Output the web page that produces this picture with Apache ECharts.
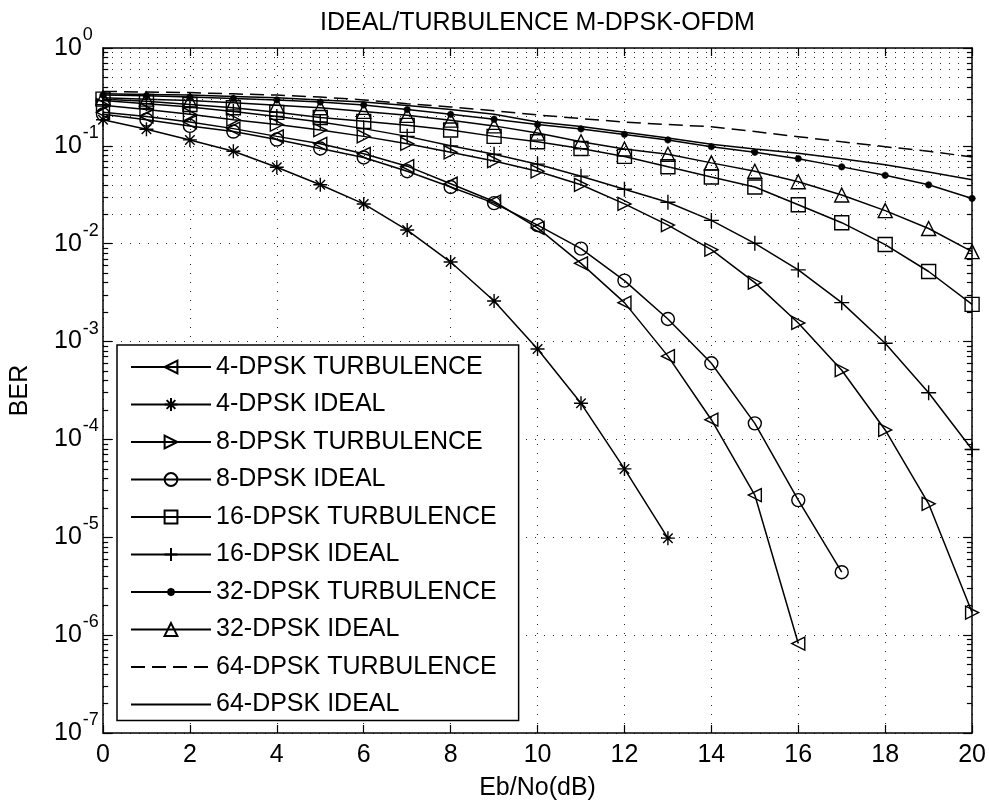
<!DOCTYPE html>
<html>
<head>
<meta charset="utf-8">
<title>IDEAL/TURBULENCE M-DPSK-OFDM</title>
<script src="https://cdn.jsdelivr.net/npm/echarts@6/dist/echarts.min.js"></script>
<style>
  html, body { margin: 0; padding: 0; background: #ffffff; }
  #chart { width: 989px; height: 806px; }
</style>
</head>
<body>
<div id="chart"></div>
<script>
// Eb/No sweep in dB
const ebno = [0, 1, 2, 3, 4, 5, 6, 7, 8, 9, 10, 11, 12, 13, 14, 15, 16, 17, 18, 19, 20];

// Bit error rates per modulation order and channel
const ber4Turb  = [0.22, 0.20, 0.175, 0.15, 0.125, 0.105, 0.083, 0.062, 0.041, 0.027, 0.0145, 0.0063, 0.0025, 0.00071, 0.000159, 2.7e-5, 8.2e-7];
const ber4Ideal = [0.185, 0.148, 0.115, 0.088, 0.0605, 0.040, 0.0255, 0.0138, 0.0065, 0.0026, 0.00084, 0.000234, 5.0e-5, 9.8e-6];
const ber8Turb  = [0.26, 0.235, 0.21, 0.185, 0.165, 0.145, 0.125, 0.105, 0.086, 0.070, 0.055, 0.040, 0.0255, 0.0155, 0.0087, 0.0040, 0.00155, 0.00051, 0.000125, 2.2e-5, 1.7e-6];
const ber8Ideal = [0.21, 0.185, 0.16, 0.14, 0.116, 0.094, 0.076, 0.055, 0.038, 0.026, 0.0155, 0.0089, 0.0042, 0.0017, 0.0006, 0.000146, 2.4e-5, 4.4e-6];
const ber16Turb  = [0.30, 0.285, 0.265, 0.245, 0.22, 0.195, 0.178, 0.162, 0.145, 0.125, 0.11, 0.094, 0.078, 0.0612, 0.048, 0.038, 0.025, 0.0164, 0.0098, 0.0052, 0.0024];
const ber16Ideal = [0.29, 0.27, 0.25, 0.225, 0.20, 0.175, 0.15, 0.125, 0.10, 0.082, 0.065, 0.049, 0.036, 0.0265, 0.0173, 0.0101, 0.0054, 0.0025, 0.00096, 0.0003, 7.9e-5];
const ber32Turb  = [0.33, 0.325, 0.315, 0.305, 0.295, 0.28, 0.262, 0.235, 0.21, 0.187, 0.165, 0.149, 0.131, 0.115, 0.098, 0.086, 0.074, 0.061, 0.050, 0.040, 0.029];
const ber32Ideal = [0.31, 0.30, 0.29, 0.275, 0.26, 0.245, 0.225, 0.205, 0.183, 0.16, 0.135, 0.11, 0.093, 0.082, 0.067, 0.055, 0.043, 0.0315, 0.0218, 0.0143, 0.0083];
const ber64Turb  = [0.36, 0.355, 0.35, 0.34, 0.33, 0.315, 0.295, 0.27, 0.25, 0.228, 0.207, 0.19, 0.175, 0.165, 0.157, 0.14, 0.124, 0.11, 0.098, 0.088, 0.077];
const ber64Ideal = [0.34, 0.335, 0.33, 0.32, 0.31, 0.295, 0.28, 0.258, 0.235, 0.21, 0.175, 0.158, 0.138, 0.12, 0.104, 0.093, 0.084, 0.074, 0.064, 0.054, 0.045];

const seriesNames = [
  '4-DPSK TURBULENCE', '4-DPSK IDEAL',
  '8-DPSK TURBULENCE', '8-DPSK IDEAL',
  '16-DPSK TURBULENCE', '16-DPSK IDEAL',
  '32-DPSK TURBULENCE', '32-DPSK IDEAL',
  '64-DPSK TURBULENCE', '64-DPSK IDEAL'
];
const seriesValues = [ber4Turb, ber4Ideal, ber8Turb, ber8Ideal, ber16Turb, ber16Ideal, ber32Turb, ber32Ideal, ber64Turb, ber64Ideal];

const titleText = 'IDEAL/TURBULENCE M-DPSK-OFDM';
const xName = 'Eb/No(dB)';
const yName = 'BER';

// Marker shapes
const LEFT_TRI  = 'path://M10,0L0,5L10,10Z';
const RIGHT_TRI = 'path://M0,0L10,5L0,10Z';
const PLUS      = 'path://M5,0L5,10M0,5L10,5';
const STAR      = 'path://M5,0L5,10M0,5L10,5M1.6,1.6L8.4,8.4M1.6,8.4L8.4,1.6';
const DOT       = 'path://M0,0M14,14M7,3.6L9.4,4.6L10.4,7L9.4,9.4L7,10.4L4.6,9.4L3.6,7L4.6,4.6Z';

const markerStyles = [
  { symbol: LEFT_TRI,  size: 13 },
  { symbol: STAR,      size: 14 },
  { symbol: RIGHT_TRI, size: 13 },
  { symbol: 'circle',  size: 13 },
  { symbol: 'rect',    size: 14 },
  { symbol: PLUS,      size: 15 },
  { symbol: DOT,       size: 14, filled: true },
  { symbol: 'triangle',size: 14 },
  { symbol: 'circle',  size: 0, plain: true, dashed: true },
  { symbol: 'circle',  size: 0, plain: true }
];

const FONT = 'Liberation Sans, Arial, Helvetica, sans-serif';
const INK = '#000000';
const CLEAR = 'rgba(0,0,0,0)';

// minor decade levels 2..9 x 10^k for the log grid
const minorLevels = [];
for (let k = -7; k < 0; k++) {
  for (let m = 2; m <= 9; m++) minorLevels.push(m * Math.pow(10, k));
}

const gridDots = { color: '#262626', width: 1, type: [1, 8] };

// helper series carrying the minor grid lines and minor ticks
const gridSeries = {
  type: 'line',
  name: '__grid',
  data: [],
  z: 1,
  silent: true,
  markLine: {
    silent: true,
    symbol: ['none', 'none'],
    label: { show: false },
    animation: false,
    lineStyle: gridDots,
    emphasis: { disabled: true },
    data: minorLevels.map(v => ({ yAxis: v }))
  }
};
const tickSeries = {
  type: 'line',
  name: '__ticks',
  data: [],
  z: 4,
  silent: true,
  markLine: {
    silent: true,
    symbol: ['none', 'none'],
    label: { show: false },
    animation: false,
    lineStyle: { color: INK, width: 1.2, type: 'solid' },
    emphasis: { disabled: true },
    data: minorLevels.flatMap(v => [
      [{ coord: [0, v] }, { coord: [0.12, v] }],
      [{ coord: [19.88, v] }, { coord: [20, v] }]
    ])
  }
};

const dataSeries = seriesNames.map((name, i) => {
  const st = markerStyles[i];
  return {
    type: 'line',
    name: name,
    data: seriesValues[i].map((v, j) => [ebno[j], v]),
    symbol: st.symbol,
    symbolSize: st.size,
    showSymbol: !st.plain,
    showAllSymbol: true,
    z: 3,
    clip: false,
    lineStyle: { color: INK, width: 1.5, type: st.dashed ? [14, 7] : 'solid' },
    itemStyle: st.plain
      ? { color: CLEAR, borderColor: CLEAR, borderWidth: 0 }
      : {
          color: st.filled ? INK : CLEAR,
          borderColor: INK,
          borderWidth: st.filled ? 0.5 : 1.4
        },
    emphasis: { disabled: true }
  };
});

function powLabel(value) {
  const e = Math.round(Math.log10(value));
  return '{b|10}{s|' + e + '}';
}

const chart = echarts.init(document.getElementById('chart'), null, { renderer: 'canvas' });
chart.setOption({
  animation: false,
  backgroundColor: '#ffffff',
  color: [INK],
  title: {
    text: titleText,
    left: 315,
    top: 6,
    textStyle: { fontSize: 25, fontWeight: 'normal', color: INK, fontFamily: FONT }
  },
  grid: { left: 102, top: 48, right: 14, bottom: 73, containLabel: false },
  legend: {
    orient: 'vertical',
    left: 117,
    top: 345,
    data: seriesNames,
    itemWidth: 80,
    itemHeight: 16,
    itemGap: 11.5,
    selectedMode: false,
    backgroundColor: '#ffffff',
    borderColor: INK,
    borderWidth: 1.5,
    borderRadius: 0,
    padding: [9, 22, 3, 13],
    textStyle: { fontSize: 25, color: INK, fontFamily: FONT, lineHeight: 26 },
    z: 20
  },
  xAxis: [
    {
      type: 'value',
      min: 0, max: 20, interval: 2,
      position: 'bottom',
      name: xName,
      nameLocation: 'middle',
      nameGap: 43,
      nameTextStyle: { fontSize: 25, color: INK, fontFamily: FONT },
      axisLine: { show: true, onZero: false, lineStyle: { color: INK, width: 1.5 } },
      axisTick: { show: true, inside: true, length: 8, lineStyle: { color: INK, width: 1.2 } },
      axisLabel: { show: true, margin: 10, fontSize: 25, color: INK, fontFamily: FONT },
      splitLine: { show: true, lineStyle: gridDots }
    },
    {
      type: 'value',
      min: 0, max: 20, interval: 2,
      position: 'top',
      axisLine: { show: true, onZero: false, lineStyle: { color: INK, width: 1.5 } },
      axisTick: { show: true, inside: true, length: 8, lineStyle: { color: INK, width: 1.2 } },
      axisLabel: { show: false },
      splitLine: { show: false }
    }
  ],
  yAxis: [
    {
      type: 'log',
      logBase: 10,
      min: 1e-7, max: 1,
      splitNumber: 7,
      position: 'left',
      name: yName,
      nameLocation: 'middle',
      nameGap: 70,
      nameRotate: 90,
      nameTextStyle: { fontSize: 25, color: INK, fontFamily: FONT },
      axisLine: { show: true, onZero: false, lineStyle: { color: INK, width: 1.5 } },
      axisTick: { show: true, inside: true, length: 9, lineStyle: { color: INK, width: 1.2 } },
      axisLabel: {
        show: true,
        align: 'left',
        margin: 49,
        formatter: powLabel,
        rich: {
          b: { fontSize: 25, color: INK, fontFamily: FONT },
          s: { fontSize: 18, color: INK, fontFamily: FONT, padding: [0, 0, 26, 1] }
        }
      },
      splitLine: { show: true, lineStyle: gridDots }
    },
    {
      type: 'log',
      logBase: 10,
      min: 1e-7, max: 1,
      splitNumber: 7,
      position: 'right',
      axisLine: { show: true, onZero: false, lineStyle: { color: INK, width: 1.5 } },
      axisTick: { show: true, inside: true, length: 9, lineStyle: { color: INK, width: 1.2 } },
      axisLabel: { show: false },
      splitLine: { show: false }
    }
  ],
  series: [gridSeries, tickSeries].concat(dataSeries)
});
</script>
</body>
</html>
